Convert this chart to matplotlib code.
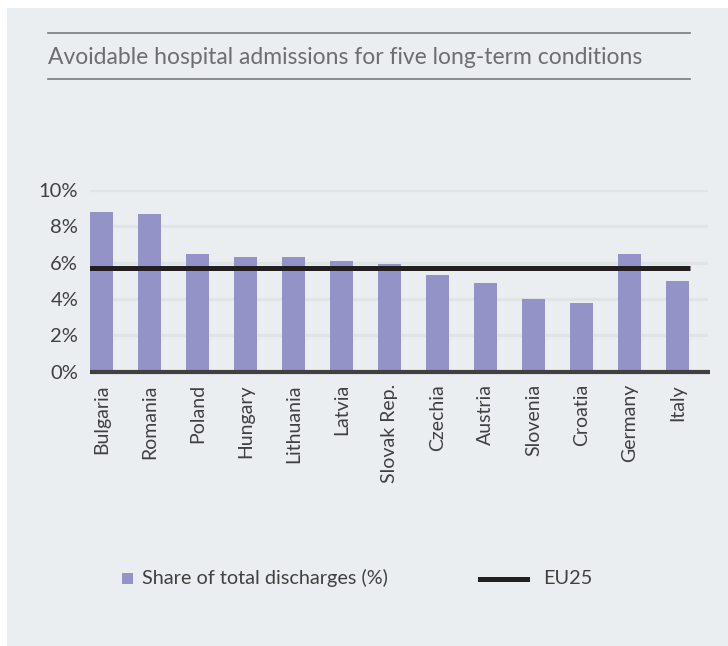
import matplotlib
matplotlib.use("Agg")
import matplotlib.pyplot as plt
from matplotlib.patches import Rectangle
from matplotlib.lines import Line2D

countries = ["Bulgaria", "Romania", "Poland", "Hungary", "Lithuania", "Latvia",
             "Slovak Rep.", "Czechia", "Austria", "Slovenia", "Croatia", "Germany", "Italy"]
share = [8.8, 8.7, 6.5, 6.3, 6.3, 6.1, 5.9, 5.3, 4.9, 4.0, 3.8, 6.5, 5.0]
eu25 = 5.7
yticks = [0, 2, 4, 6, 8, 10]
ytick_labels = ["0%", "2%", "4%", "6%", "8%", "10%"]

title = "Avoidable hospital admissions for five long-term conditions"
legend_bar = "Share of total discharges (%)"
legend_line = "EU25"

W, H = 728, 646
BG = "#eaeef0"
BAR = "#9393c8"
TXT = "#404040"
FONT = ["Lato", "DejaVu Sans"]
plt.rcParams["font.family"] = FONT

fig = plt.figure(figsize=(W / 100, H / 100), dpi=100)
fig.patch.set_facecolor("white")
fig.add_artist(Rectangle((7 / W, 0), (W - 7) / W, (H - 8) / H, transform=fig.transFigure,
                         facecolor=BG, edgecolor="none", zorder=0))

def fx(px):
    return px / W

def fy(py):
    return 1 - py / H

ax = fig.add_axes([fx(90), fy(371.7), (708 - 90) / W, (371.7 - 190) / H])
ax.set_facecolor("none")
x = list(range(len(countries)))
ax.set_ylim(0, 10)
ax.set_xlim(-0.24, len(countries) - 1 + 0.635)

for t in yticks[1:]:
    ax.axhline(t, color="#e1e4e5", linewidth=2.4, zorder=1)

ax.bar(x, share, width=0.48, color=BAR, zorder=2)
ax.hlines(eu25, -0.28, len(countries) - 1 + 0.26, color="#231f20", linewidth=3.6, zorder=3)
ax.plot([0, 1.004], [0, 0], transform=ax.get_yaxis_transform(), color="#404040",
        linewidth=3.0, solid_capstyle="butt", clip_on=False, zorder=4)

for s in ax.spines.values():
    s.set_visible(False)
ax.set_yticks(yticks)
ax.set_yticklabels(ytick_labels)
ax.set_xticks(x)
ax.set_xticklabels(countries, rotation=90)
ax.tick_params(axis="y", length=0, pad=8.5, labelsize=14.5, labelcolor=TXT)
ax.tick_params(axis="x", length=0, pad=9, labelsize=14, labelcolor=TXT)

# title block
fig.add_artist(Line2D([fx(48), fx(690)], [fy(33), fy(33)], color="#7a7a7a", linewidth=1.2,
                      transform=fig.transFigure))
fig.add_artist(Line2D([fx(48), fx(690)], [fy(79), fy(79)], color="#7a7a7a", linewidth=1.2,
                      transform=fig.transFigure))
fig.text(fx(48), fy(57), title, ha="left", va="center", fontsize=16.5, color="#6d6e71")

# legend
fig.add_artist(Rectangle((fx(122), fy(584)), 11 / W, 11 / H, transform=fig.transFigure,
                         facecolor=BAR, edgecolor="none"))
fig.text(fx(142), fy(578), legend_bar, ha="left", va="center", fontsize=14.3, color=TXT)
fig.add_artist(Line2D([fx(480), fx(527)], [fy(579), fy(579)], color="#231f20", linewidth=3.6,
                      transform=fig.transFigure))
fig.text(fx(543), fy(578), legend_line, ha="left", va="center", fontsize=14.3, color=TXT)

fig.savefig("out.png", dpi=100, facecolor=fig.get_facecolor())
